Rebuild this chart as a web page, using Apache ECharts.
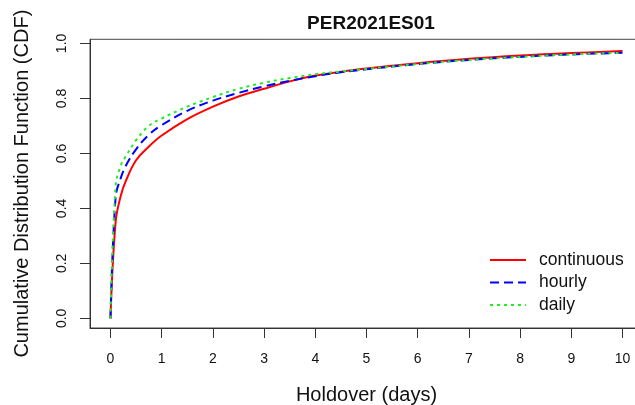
<!DOCTYPE html>
<html>
<head>
<meta charset="utf-8">
<script src="https://cdn.jsdelivr.net/npm/echarts@6/dist/echarts.min.js"></script>
<style>
  html, body { margin: 0; padding: 0; background: #fff; }
  #chart { width: 635px; height: 405px; }
</style>
</head>
<body>
<div id="chart"></div>
<script>
// holdover (days) sampled along the curves
var days = [0, 0.1, 0.2, 0.3, 0.5, 0.75, 1, 1.5, 2, 2.5, 3, 3.5, 4, 4.5, 5, 6, 7, 8, 9, 10];
var continuous = [0, 0.35, 0.445, 0.50, 0.575, 0.625, 0.665, 0.725, 0.77, 0.807, 0.835, 0.862, 0.883, 0.897, 0.909, 0.928, 0.944, 0.956, 0.965, 0.972];
var hourly = [0, 0.44, 0.51, 0.555, 0.615, 0.668, 0.703, 0.755, 0.792, 0.82, 0.844, 0.864, 0.881, 0.895, 0.906, 0.925, 0.940, 0.951, 0.960, 0.966];
var daily = [0, 0.48, 0.555, 0.59, 0.648, 0.70, 0.727, 0.77, 0.805, 0.835, 0.857, 0.874, 0.888, 0.898, 0.907, 0.925, 0.940, 0.951, 0.960, 0.966];
var xTicks = [0, 1, 2, 3, 4, 5, 6, 7, 8, 9, 10];
var yTicks = [0, 0.2, 0.4, 0.6, 0.8, 1.0];

function pairs(ys) {
	var out = [];
	for (var i = 0; i < days.length; i++) {
		out.push([days[i], ys[i]]);
	}
	return out;
}

var myChart = echarts.init(document.getElementById('chart'), null, { renderer: 'canvas' });
var font = 'Liberation Sans, Arial, sans-serif';

var option = {
	animation: false,
	backgroundColor: '#fff',
	textStyle: { fontFamily: font, color: '#111' },
	title: {
		text: 'PER2021ES01',
		left: 366,
		top: 9,
		textAlign: 'center',
		textStyle: { fontFamily: font, fontSize: 19, fontWeight: 'bold', color: '#111' }
	},
	grid: {
		left: 90,
		top: 39.3,
		width: 553,
		height: 288.7,
		show: true,
		borderColor: '#444',
		borderWidth: 1,
		containLabel: false,
		outerBoundsMode: 'none'
	},
	legend: {
		orient: 'vertical',
		left: 484,
		top: 246,
		itemWidth: 36,
		itemHeight: 14,
		itemGap: 4.5,
		itemStyle: { color: 'transparent', borderWidth: 0, opacity: 0 },
		textStyle: { fontFamily: font, fontSize: 17.5, lineHeight: 18, color: '#111', padding: [0, 0, 0, 8] },
		data: ['continuous', 'hourly', 'daily']
	},
	xAxis: {
		type: 'value',
		min: -0.4,
		max: 10.4,
		name: 'Holdover (days)',
		nameLocation: 'middle',
		nameGap: 57,
		nameTextStyle: { fontFamily: font, fontSize: 20, color: '#111' },
		axisLine: { show: true, onZero: false, lineStyle: { color: '#333', width: 1 } },
		axisTick: { show: true, length: 10, lineStyle: { color: '#333' }, customValues: xTicks },
		axisLabel: { fontFamily: font, fontSize: 14, color: '#111', margin: 24, customValues: xTicks },
		splitLine: { show: false }
	},
	yAxis: {
		type: 'value',
		min: -0.035,
		max: 1.015,
		name: 'Cumulative Distribution Function (CDF)',
		nameLocation: 'middle',
		nameGap: 58,
		nameTextStyle: { fontFamily: font, fontSize: 20, color: '#111' },
		axisLine: { show: true, onZero: false, lineStyle: { color: '#333', width: 1 } },
		axisTick: { show: true, length: 10, lineStyle: { color: '#333' }, customValues: yTicks },
		axisLabel: {
			fontFamily: font, fontSize: 14, color: '#111', margin: 21, rotate: 90,
			customValues: yTicks,
			formatter: function (v) { return v.toFixed(1); }
		},
		splitLine: { show: false }
	},
	series: [
		{
			name: 'continuous',
			type: 'line',
			data: pairs(continuous),
			symbol: 'none',
			smooth: 0.4,
			lineStyle: { color: '#ff0000', width: 2, type: 'solid' },
			itemStyle: { color: '#ff0000' }
		},
		{
			name: 'hourly',
			type: 'line',
			data: pairs(hourly),
			symbol: 'none',
			smooth: 0.4,
			lineStyle: { color: '#0000ff', width: 2, type: [9, 5] },
			itemStyle: { color: '#0000ff' }
		},
		{
			name: 'daily',
			type: 'line',
			data: pairs(daily),
			symbol: 'none',
			smooth: 0.4,
			lineStyle: { color: '#22ee22', width: 2, type: [3, 4] },
			itemStyle: { color: '#22ee22' }
		}
	]
};

myChart.setOption(option);
</script>
</body>
</html>
